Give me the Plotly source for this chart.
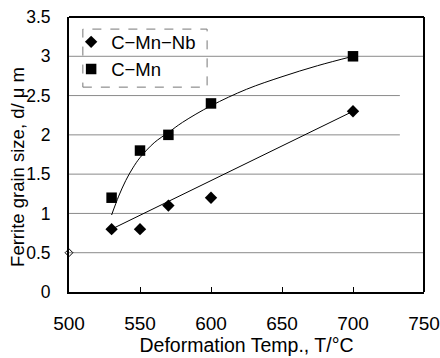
import plotly.graph_objects as go

# Data
temp_nb = [530, 550, 570, 600, 700]
size_nb = [0.8, 0.8, 1.1, 1.2, 2.3]
temp_mn = [530, 550, 570, 600, 700]
size_mn = [1.2, 1.8, 2.0, 2.4, 3.0]

# trend lines
trend_nb_x = [530, 700]
trend_nb_y = [0.8, 2.3]
trend_mn_x = [530, 535, 540, 545, 550, 560, 570, 580, 600, 625, 650, 675, 700]
trend_mn_y = [0.98, 1.22, 1.42, 1.58, 1.71, 1.90, 2.03, 2.16, 2.37, 2.58, 2.74, 2.88, 3.0]

# stray open marker at the axis
extra_x = [500]
extra_y = [0.5]

grid_y = [0.5, 1.0, 1.5, 2.0, 2.5, 3.0]
grid_end = [750, 750, 750, 733, 733, 750]

FONT = "Liberation Sans, Arial, sans-serif"

fig = go.Figure()
fig.add_trace(go.Scatter(x=trend_nb_x, y=trend_nb_y, mode="lines",
                         line=dict(color="black", width=1), showlegend=False, hoverinfo="skip"))
fig.add_trace(go.Scatter(x=trend_mn_x, y=trend_mn_y, mode="lines", line_shape="spline",
                         line=dict(color="black", width=1), showlegend=False, hoverinfo="skip"))
fig.add_trace(go.Scatter(x=temp_nb, y=size_nb, mode="markers", name="C\u2212Mn\u2212Nb",
                         marker=dict(symbol="diamond", size=9.5, color="black")))
fig.add_trace(go.Scatter(x=temp_mn, y=size_mn, mode="markers", name="C\u2212Mn",
                         marker=dict(symbol="square", size=10.5, color="black")))
fig.add_trace(go.Scatter(x=extra_x, y=extra_y, mode="markers", showlegend=False,
                         marker=dict(symbol="diamond-open", size=6, color="black", line=dict(width=1)),
                         cliponaxis=False))

shapes = []
for gy, ge in zip(grid_y, grid_end):
    shapes.append(dict(type="line", xref="x", yref="y", x0=500, x1=ge, y0=gy, y1=gy,
                       line=dict(color="#8a8a8a", width=1), layer="below"))
shapes.append(dict(type="rect", xref="paper", yref="paper", x0=0.039, x1=0.389, y0=0.745, y1=0.956,
                   fillcolor="white", line=dict(color="#777", width=1, dash="dash"), layer="below"))
# frame
shapes.append(dict(type="line", xref="paper", yref="paper", x0=0, x1=1, y0=1, y1=1,
                   line=dict(color="black", width=2)))
shapes.append(dict(type="line", xref="paper", yref="paper", x0=1, x1=1, y0=0, y1=1,
                   line=dict(color="black", width=2)))

fig.update_layout(
    width=440, height=358,
    margin=dict(l=69, r=16, t=17, b=66, autoexpand=False),
    paper_bgcolor="white", plot_bgcolor="white",
    font=dict(family=FONT, size=19, color="black"),
    shapes=shapes,
    showlegend=True,
    legend=dict(x=0.006, y=0.977, xanchor="left", yanchor="top", bgcolor="rgba(0,0,0,0)",
                font=dict(size=18.5), itemwidth=30, tracegroupgap=0),
    annotations=[dict(text="Ferrite grain size, d/ \u03bc m", textangle=-90, xref="paper", yref="paper",
                      x=0, y=0.455, xanchor="center", yanchor="middle", xshift=-51, showarrow=False,
                      font=dict(size=18.5))],
    xaxis=dict(range=[500, 750], tickvals=[500, 550, 600, 650, 700, 750], showgrid=False,
               showline=True, linecolor="black", linewidth=2, ticks="inside", ticklen=5,
               tickcolor="black", ticklabelstandoff=13, zeroline=False, automargin=False,
               ticklabeloverflow="allow", tickfont=dict(size=19),
               title=dict(text="Deformation Temp., T/\u00b0C", font=dict(size=19.5), standoff=4)),
    yaxis=dict(range=[0, 3.5], dtick=0.5, showgrid=False, showline=True, linecolor="black",
               linewidth=2, ticks="", zeroline=False, ticklabelstandoff=13, automargin=False,
               ticklabeloverflow="allow", tickfont=dict(size=17.5)),
)

fig.write_html("out.html", config={"displayModeBar": False},
               post_script="document.body.style.margin='0';document.body.style.overflow='hidden';")
